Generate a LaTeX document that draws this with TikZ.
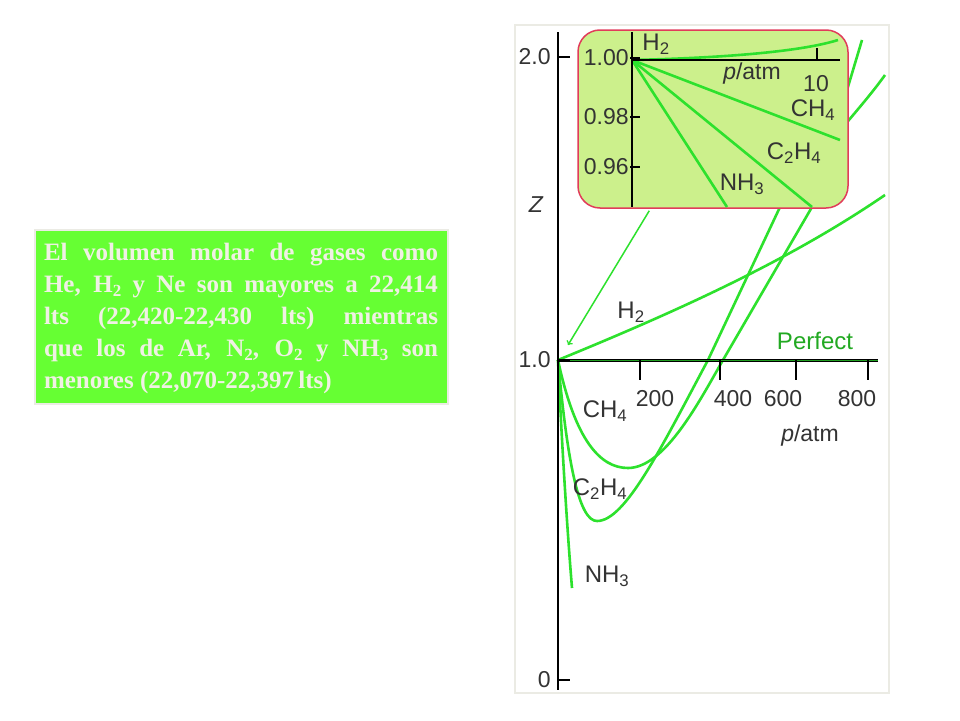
\documentclass[tikz,border=0pt]{standalone}
\usepackage{fontspec}
\setmainfont{Liberation Sans}
\newfontfamily\boxfont{Liberation Serif}
\usetikzlibrary{positioning}
\definecolor{gascurve}{RGB}{45,225,45}
\definecolor{insetfill}{RGB}{204,240,140}
\definecolor{insetrim}{RGB}{225,60,90}
\definecolor{notegreen}{RGB}{102,255,51}
\definecolor{notetext}{RGB}{240,240,228}
\definecolor{framegray}{RGB}{235,235,228}
\newcommand{\lowsub}[1]{\raisebox{-0.4ex}{\fontsize{17}{17}\selectfont #1}}
\begin{document}
\begin{tikzpicture}
 [ x=1pt, y=-1pt
 , curve/.style={draw=gascurve, line width=2.6pt}
 , axis/.style={black, line width=2pt}
 , ticklabel/.style={font=\fontsize{23}{23}\selectfont, text=black!80}
 , gaslabel/.style={font=\fontsize{24}{24}\selectfont, text=black!80}
 ]
  \useasboundingbox (0,0) rectangle (960,720);
  % note box
  \draw[fill=notegreen, draw=framegray, line width=2pt] (35,230) rectangle (448,404);
  \node (note) [text width=394pt, align=justify, text=notetext, inner sep=0pt,
    font=\boxfont\bfseries\fontsize{25}{32}\selectfont] at (241,318)
    {El volumen molar de gases como\linebreak He, H\lowsub{2} y Ne son mayores a 22,414\linebreak lts (22,420-22,430 lts) mientras\linebreak que los de Ar, N\lowsub{2}, O\lowsub{2} y NH\lowsub{3} son\linebreak menores (22,070-22,397\,lts)};
  % panel
  \draw[framegray, fill=white, line width=2pt] (515,25) rectangle (889,693);
  % main curves
  \draw[curve] (558,360) .. controls (680,310) and (790,260) .. (885,195);
  \draw[curve] (558,360) .. controls (575,440) and (600,468) .. (628,468)
    .. controls (665,468) and (700,400) .. (723,360) -- (812,207) -- (862,40);
  \draw[curve] (558,360) .. controls (568,470) and (580,521) .. (597,521)
    .. controls (625,521) and (660,450) .. (708,360) -- (780,207)
    .. controls (820,150) and (860,110) .. (885,75);
  \draw[curve] (558,360) .. controls (562,450) and (568,540) .. (572,588);
  % axes
  \coordinate (origin) at (558,360);
  \coordinate (ztop) at (558,32);
  \coordinate (zbottom) at (558,690);
  \coordinate (pend) at (878,360);
  \draw[axis] (ztop) -- (zbottom);
  \draw[axis, line width=3pt] (origin) -- (pend);
  \draw[gascurve!70!black, line width=1pt] (origin) -- (pend);
  \foreach \v/\y [count=\i] in {2.0/57, 1.0/360, 0/680}
    \draw[axis] (558,\y) -- (570,\y) node (zt\i) [ticklabel, left=3pt] at (558,\y) {\v};
  \foreach \p/\x/\lx in {200/640/655, 400/720/733, 600/796/783, 800/868/857}
    \draw[axis] (\x,360) -- (\x,380) node (pt\p) [ticklabel] at (\lx,399) {\p};
  \node (zlabel) [ticklabel] at (536,205) {\itshape Z};
  \node (plabel) [ticklabel] at (810,436) {\textit{p}/atm};
  \node (perfect) [gaslabel, text=gascurve!75!black] at (815,341) {Perfect};
  \node (h2) [gaslabel] at (631,312) {H\textsubscript{2}};
  \node (ch4) [gaslabel] at (605,411) {CH\textsubscript{4}};
  \node (c2h4) [gaslabel] at (600,489) {C\textsubscript{2}H\textsubscript{4}};
  \node (nh3) [gaslabel] at (607,576) {NH\textsubscript{3}};
  % inset
  \node (inset) [draw=insetrim, fill=insetfill, line width=1.5pt, rounded corners=22pt,
    minimum width=270pt, minimum height=178pt] at (713,119) {};
  \coordinate (iorigin) at (632,60);
  \draw[curve] (iorigin) .. controls (720,58) and (800,52) .. (838,40);
  \draw[curve] (iorigin) -- (840,140);
  \draw[curve] (iorigin) -- (812,207);
  \draw[curve] (iorigin) -- (727,207);
  \draw[axis] (632,32) -- (632,207);
  \draw[axis] (iorigin) -- (840,60);
  \draw[axis] (817,60) -- (817,48);
  \foreach \v/\y [count=\i] in {1.00/58, 0.98/117, 0.96/167}
    \draw[axis] (630,\y) -- (640,\y) node (it\i) [ticklabel, left=-1pt] at (632,\y) {\v};
  \node (iten) [ticklabel] at (816,84) {10};
  \node (iplabel) [ticklabel] at (752,74) {\textit{p}/atm};
  \node (ih2) [gaslabel] at (656,44) {H\textsubscript{2}};
  \node (ich4) [gaslabel] at (813,110) {CH\textsubscript{4}};
  \node (ic2h4) [gaslabel] at (794,153) {C\textsubscript{2}H\textsubscript{4}};
  \node (inh3) [gaslabel] at (742,184) {NH\textsubscript{3}};
  % pointer
  \coordinate (pointtip) at (568,345);
  \draw[gascurve, line width=1.5pt, ->] (inset.south west) ++(72,2) -- (pointtip);
\end{tikzpicture}
\end{document}
